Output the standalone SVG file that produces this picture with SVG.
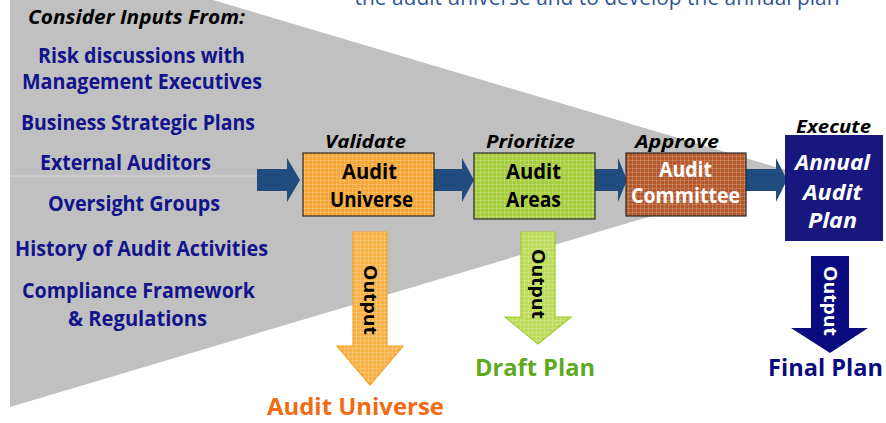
<svg xmlns="http://www.w3.org/2000/svg" width="886" height="423" viewBox="0 0 886 423">
<defs>
<style>
text{font-family:"Open Sans","Liberation Sans",sans-serif;font-weight:bold;}
.inp{font-size:20.5px;fill:#13138C;text-anchor:middle;}
.stage{font-size:18.5px;font-style:italic;fill:#000;text-anchor:middle;}
.bx{font-size:20.5px;text-anchor:middle;}
.out{font-size:17px;text-anchor:middle;}
.res{font-size:23.5px;text-anchor:middle;}
.flow{fill:#214C7F;}
.box{stroke:#2b2b2b;stroke-width:1.2;}
</style>
<pattern id="tex" width="4" height="4" patternUnits="userSpaceOnUse">
<path d="M0 0.5H4M0.5 0V4" stroke="#ffffff" stroke-opacity="0.18" stroke-width="1"/>
</pattern>
</defs>
<rect width="886" height="423" fill="#ffffff"/>
<polygon points="10,0 213,0 796,173 10,407" fill="#C0C0C0"/>
<line x1="10" y1="176" x2="258" y2="176" stroke="#D9D9D9" stroke-width="1"/>
<text x="597" y="5" font-size="22" style="font-weight:normal;fill:#2F5597;text-anchor:middle" textLength="485" lengthAdjust="spacingAndGlyphs">the audit universe and to develop the annual plan</text>
<g id="inputs">
<text x="136.5" y="24" style="font-size:19px;font-style:italic;fill:#000;text-anchor:middle" textLength="217" lengthAdjust="spacingAndGlyphs">Consider Inputs From:</text>
<text class="inp" x="141.5" y="63" textLength="207" lengthAdjust="spacingAndGlyphs">Risk discussions with</text>
<text class="inp" x="142" y="89" textLength="240" lengthAdjust="spacingAndGlyphs">Management Executives</text>
<text class="inp" x="138" y="130" textLength="234" lengthAdjust="spacingAndGlyphs">Business Strategic Plans</text>
<text class="inp" x="125.5" y="170" textLength="171" lengthAdjust="spacingAndGlyphs">External Auditors</text>
<text class="inp" x="134" y="211" textLength="172" lengthAdjust="spacingAndGlyphs">Oversight Groups</text>
<text class="inp" x="141.5" y="256" textLength="253" lengthAdjust="spacingAndGlyphs">History of Audit Activities</text>
<text class="inp" x="138.5" y="298" textLength="233" lengthAdjust="spacingAndGlyphs">Compliance Framework</text>
<text class="inp" x="137.5" y="326" textLength="139" lengthAdjust="spacingAndGlyphs">&amp; Regulations</text>
</g>
<g id="connectors">
<polygon class="flow" points="257,169 287,169 287,158 300,180 287,202 287,191 257,191"/>
<polygon class="flow" points="434,169 462,169 462,158 474,180 462,202 462,191 434,191"/>
<polygon class="flow" points="595,169 618,169 618,158 627,180 618,202 618,191 595,191"/>
<polygon class="flow" points="746,169 776,169 776,158 787,180 776,202 776,191 746,191"/>
</g>
<g id="validate">
<text class="stage" x="365.5" y="148" textLength="81" lengthAdjust="spacingAndGlyphs">Validate</text>
<rect class="box" x="303" y="153" width="131" height="63" fill="#F4A534"/>
<rect x="303.5" y="153.5" width="130" height="62" fill="url(#tex)"/>
<text class="bx" x="369.5" y="179" fill="#000" textLength="55" lengthAdjust="spacingAndGlyphs">Audit</text>
<text class="bx" x="371.5" y="207" fill="#000" textLength="83" lengthAdjust="spacingAndGlyphs">Universe</text>
</g>
<g id="prioritize">
<text class="stage" x="530.5" y="148" textLength="89" lengthAdjust="spacingAndGlyphs">Prioritize</text>
<rect class="box" x="474" y="153" width="121" height="66" fill="#A6CC3C"/>
<rect x="474.5" y="153.5" width="120" height="65" fill="url(#tex)"/>
<text class="bx" x="533.5" y="179" fill="#000" textLength="55" lengthAdjust="spacingAndGlyphs">Audit</text>
<text class="bx" x="533.5" y="207" fill="#000" textLength="55" lengthAdjust="spacingAndGlyphs">Areas</text>
</g>
<g id="approve">
<text class="stage" x="677" y="148" textLength="84" lengthAdjust="spacingAndGlyphs">Approve</text>
<rect class="box" x="626" y="153" width="120" height="63" fill="#B4572B"/>
<rect x="626.5" y="153.5" width="119" height="62" fill="url(#tex)"/>
<text class="bx" x="685.5" y="177" fill="#fff" textLength="53" lengthAdjust="spacingAndGlyphs">Audit</text>
<text class="bx" x="685.5" y="203" fill="#fff" textLength="109" lengthAdjust="spacingAndGlyphs">Committee</text>
</g>
<g id="execute">
<text class="stage" x="833.5" y="133" textLength="75" lengthAdjust="spacingAndGlyphs">Execute</text>
<rect x="785" y="135" width="98" height="106" fill="#17177E"/>
<text class="bx" x="832.5" y="170" fill="#fff" font-style="italic" textLength="75" lengthAdjust="spacingAndGlyphs">Annual</text>
<text class="bx" x="832.5" y="200" fill="#fff" font-style="italic" textLength="59" lengthAdjust="spacingAndGlyphs">Audit</text>
<text class="bx" x="832.5" y="228" fill="#fff" font-style="italic" textLength="49" lengthAdjust="spacingAndGlyphs">Plan</text>
</g>
<g id="output-universe">
<polygon points="353,232 387,232 387,346 403,346 370,385 337,346 353,346" fill="#F8B247" stroke="#F5A020" stroke-width="1.2"/>
<polygon points="353,232 387,232 387,346 403,346 370,385 337,346 353,346" fill="url(#tex)"/>
<text class="out" transform="translate(370,300) rotate(90)" x="0" y="6" fill="#000" textLength="70" lengthAdjust="spacingAndGlyphs">Output</text>
<text class="res" x="355.5" y="415" fill="#F26A14" textLength="177" lengthAdjust="spacingAndGlyphs">Audit Universe</text>
</g>
<g id="output-draft">
<polygon points="521,232 555,232 555,317 571,317 538,344 505,317 521,317" fill="#BDDB58" stroke="#9CCB2A" stroke-width="1.2"/>
<polygon points="521,232 555,232 555,317 571,317 538,344 505,317 521,317" fill="url(#tex)"/>
<text class="out" transform="translate(538,284) rotate(90)" x="0" y="6" fill="#000" textLength="70" lengthAdjust="spacingAndGlyphs">Output</text>
<text class="res" x="535" y="376" fill="#5FA91E" textLength="120" lengthAdjust="spacingAndGlyphs">Draft Plan</text>
</g>
<g id="output-final">
<polygon points="811,256 849,256 849,328 868,328 830,353 791,328 811,328" fill="#0B0B80"/>
<text class="out" transform="translate(830,301) rotate(90)" x="0" y="6" fill="#fff" textLength="70" lengthAdjust="spacingAndGlyphs">Output</text>
<text class="res" x="825.5" y="376" fill="#0B0B80" textLength="115" lengthAdjust="spacingAndGlyphs">Final Plan</text>
</g>
</svg>
